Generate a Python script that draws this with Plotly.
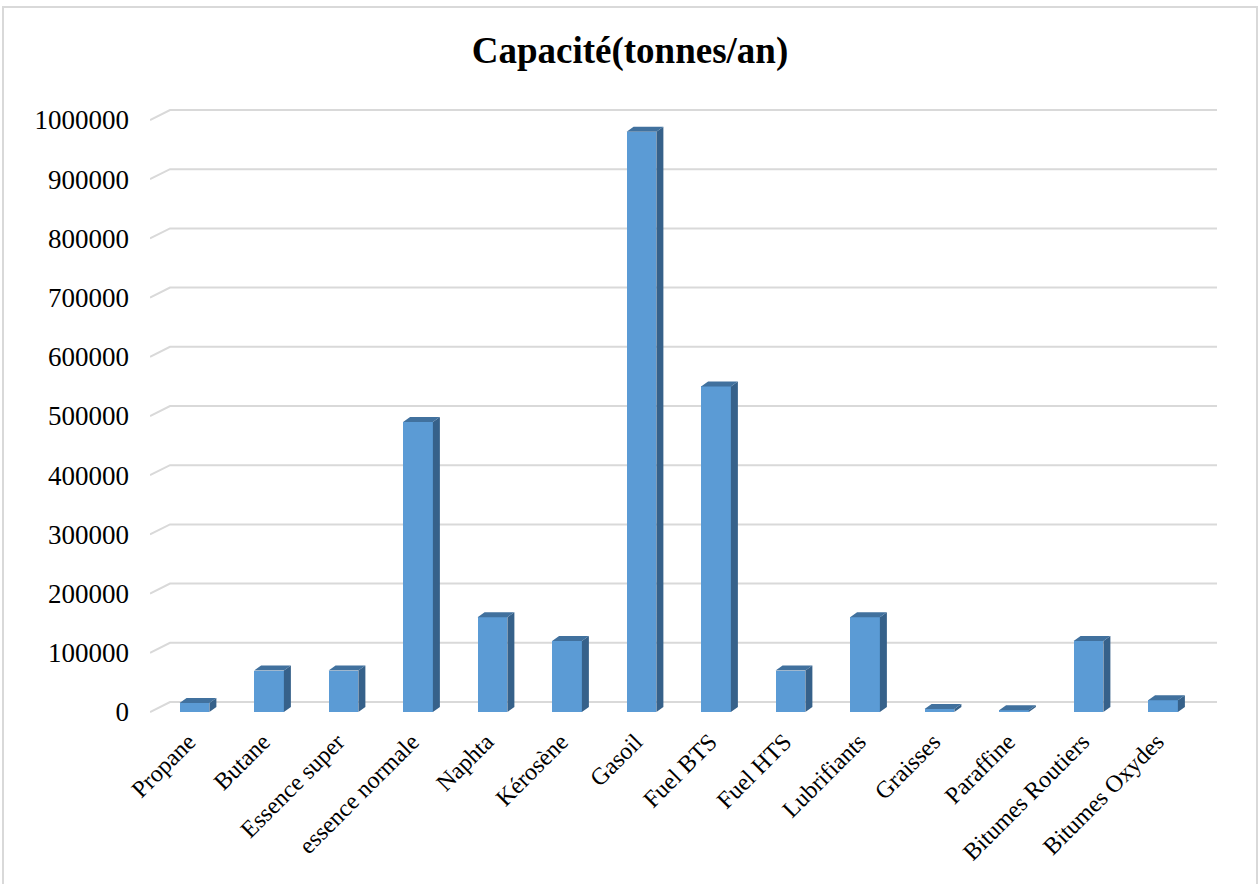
import plotly.graph_objects as go

# ---------------- data ----------------
categories = ["Propane", "Butane", "Essence super", "essence normale", "Naphta",
              "Kérosène", "Gasoil", "Fuel BTS", "Fuel HTS", "Lubrifiants",
              "Graisses", "Paraffine", "Bitumes Routiers", "Bitumes Oxydes"]
values = [15000, 70000, 70000, 490000, 160000, 120000, 980000, 550000,
          70000, 160000, 5000, 3000, 120000, 20000]
y_ticks = [0, 100000, 200000, 300000, 400000, 500000, 600000, 700000,
           800000, 900000, 1000000]
title_text = "Capacité(tonnes/an)"

# ---------------- layout geometry ----------------
W, H = 1260, 884
L, R, T, B = 150, 43, 100, 164
plot_w = W - L - R
plot_h = H - T - B
x_range = [-0.597, 13.725]
px_per_x = plot_w / (x_range[1] - x_range[0])
y0_px = 712
px_per_y = 592 / 1e6
y_range = [-(T + plot_h - y0_px) / px_per_y, (y0_px - T) / px_per_y]

bar_w = 0.4
dx = 7 / px_per_x      # bar depth (x)
dy = 5 / px_per_y      # bar depth (y)
gx = 20 / px_per_x     # back-wall offset
gy = 10 / px_per_y

xs = list(range(len(categories)))

FRONT = "#5b9bd5"
TOP = "#41719e"
SIDE = "#36618a"
GRID = "#d9d9d9"
FONT = "Liberation Serif, Times New Roman, serif"

fig = go.Figure()

fig.add_trace(go.Bar(x=xs, y=values, width=bar_w,
                     marker=dict(color=FRONT, line=dict(width=0)),
                     hoverinfo="x+y", showlegend=False))

# side faces
sx, sy = [], []
for x, v in zip(xs, values):
    xr = x + bar_w / 2
    sx += [xr, xr + dx, xr + dx, xr, xr, None]
    sy += [0, dy, v + dy, v, 0, None]
fig.add_trace(go.Scatter(x=sx, y=sy, mode="lines", fill="toself",
                         fillcolor=SIDE, line=dict(width=0, color=SIDE),
                         hoverinfo="skip", showlegend=False))

# top faces
tx, ty = [], []
for x, v in zip(xs, values):
    xl, xr = x - bar_w / 2, x + bar_w / 2
    tx += [xl, xr, xr + dx, xl + dx, xl, None]
    ty += [v, v, v + dy, v + dy, v, None]
fig.add_trace(go.Scatter(x=tx, y=ty, mode="lines", fill="toself",
                         fillcolor=TOP, line=dict(width=0, color=TOP),
                         hoverinfo="skip", showlegend=False))

shapes = []
for t in y_ticks:
    path = (f"M {x_range[0]},{t} L {x_range[0] + gx},{t + gy} "
            f"L {x_range[1]},{t + gy}")
    shapes.append(dict(type="path", path=path, xref="x", yref="y",
                       line=dict(color=GRID, width=2), layer="below"))

# outer chart border
shapes.append(dict(type="rect", xref="paper", yref="paper",
                   x0=(3 - L) / plot_w, x1=(1257 - L) / plot_w,
                   y0=(T + plot_h - 900) / plot_h, y1=(T + plot_h - 7) / plot_h,
                   line=dict(color=GRID, width=2), fillcolor="rgba(0,0,0,0)",
                   layer="below"))

fig.update_layout(
    width=W, height=H,
    margin=dict(l=L, r=R, t=T, b=B, autoexpand=False),
    paper_bgcolor="white", plot_bgcolor="white",
    shapes=shapes,
    bargap=0,
    title=dict(text=title_text, x=0.5, xref="container", xanchor="center",
               y=1 - 50 / H, yref="container", yanchor="middle",
               font=dict(family=FONT, size=37, color="black", weight="bold")),
    font=dict(family=FONT, color="black"),
    xaxis=dict(range=x_range, tickmode="array", tickvals=xs, ticktext=categories,
               tickangle=-45, showgrid=False, zeroline=False, showline=False,
               ticks="", tickfont=dict(size=24, family=FONT, color="black"),
               ticklabelstandoff=2, ticklabelshift=-6),
    yaxis=dict(range=y_range, tickmode="array", tickvals=y_ticks,
               ticktext=[str(t) for t in y_ticks],
               showgrid=False, zeroline=False, showline=False, ticks="",
               tickfont=dict(size=27, family=FONT, color="black"),
               ticklabelstandoff=20),
)

fig.write_html("out.html")
